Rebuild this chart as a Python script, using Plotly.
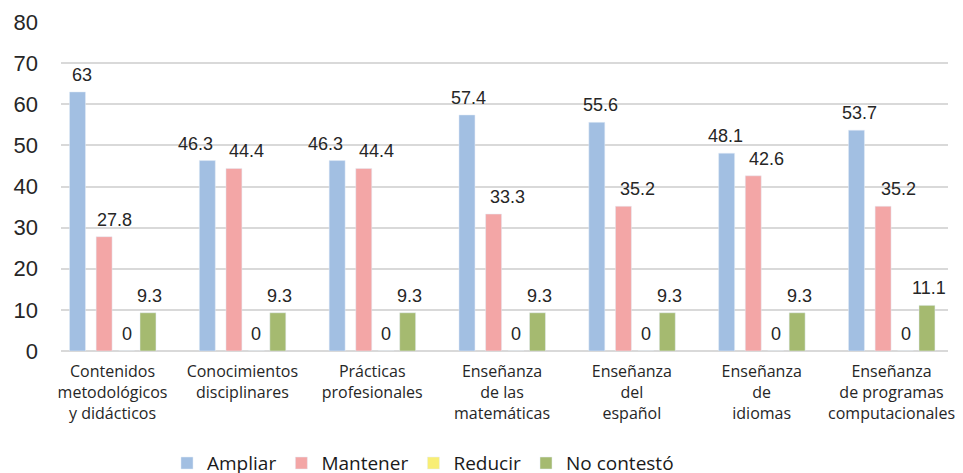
import plotly.graph_objects as go

categories = [
    "Contenidos<br>metodológicos<br>y didácticos",
    "Conocimientos<br>disciplinares",
    "Prácticas<br>profesionales",
    "Enseñanza<br>de las<br>matemáticas",
    "Enseñanza<br>del<br>español",
    "Enseñanza<br>de<br>idiomas",
    "Enseñanza<br>de programas<br>computacionales",
]
series_names = ["Ampliar", "Mantener", "Reducir", "No contestó"]
ampliar = [63, 46.3, 46.3, 57.4, 55.6, 48.1, 53.7]
mantener = [27.8, 44.4, 44.4, 33.3, 35.2, 42.6, 35.2]
reducir = [0, 0, 0, 0, 0, 0, 0]
no_contesto = [9.3, 9.3, 9.3, 9.3, 9.3, 9.3, 11.1]
y_ticks = [0, 10, 20, 30, 40, 50, 60, 70, 80]

series_values = [ampliar, mantener, reducir, no_contesto]
colors = ["#A2BFE2", "#F3A6A6", "#F8EE75", "#A5BA70"]
centers = [-0.270, -0.065, 0.108, 0.273]   # bar centre offsets within a category (category units)
bar_w = 0.123
# horizontal nudges (px) of the value labels, as placed in the original
label_dx = [
    [5, -12, -12, 2, 4, -1, 3],
    [10, 13, 13, 14, 14, 13, 15],
    [0, 0, 0, 0, 0, 0, 0],
    [2, 2, 2, 2, 2, 2, 2],
]

fig = go.Figure()
idx = list(range(len(categories)))
for name, vals, col, c, dxs in zip(series_names, series_values, colors, centers, label_dx):
    fig.add_trace(go.Bar(
        name=name, x=idx, y=vals, marker_color=col,
        width=bar_w, offset=c - bar_w / 2,
    ))
    for i, v, dx in zip(idx, vals, dxs):
        fig.add_annotation(
            x=i + c, y=v, text=f"{v:g}", showarrow=False,
            xanchor="center", yanchor="bottom", yshift=5, xshift=dx,
            font=dict(family="Liberation Sans, Arial", size=18, color="#262626"),
        )

fig.update_layout(
    width=955, height=465,
    margin=dict(l=53, r=15, t=14, b=122, autoexpand=False),
    plot_bgcolor="white", paper_bgcolor="white",
    barmode="overlay",
    showlegend=True,
    legend=dict(
        orientation="h", x=0.1195, xanchor="left",
        yref="container", y=0.062, yanchor="top",
        font=dict(family="Open Sans", size=19, color="#1a1a1a"),
        itemclick=False,
    ),
    xaxis=dict(
        range=[-0.397, 6.435], tickmode="array", tickvals=idx, ticktext=categories,
        showgrid=False, zeroline=False, showline=False, ticks="", automargin=False,
        tickfont=dict(family="Open Sans", size=16, color="#262626"),
        ticklabelstandoff=9,
    ),
    yaxis=dict(
        range=[0, 80], tickvals=y_ticks, showgrid=True, gridcolor="#D9D9D9", gridwidth=1.5,
        zeroline=True, zerolinecolor="#D9D9D9", zerolinewidth=1.5, automargin=False,
        showline=False, ticks="", ticklabelstandoff=22,
        tickfont=dict(family="Liberation Sans, Arial", size=22, color="#262626"),
    ),
)

fig.write_html("out.html")
